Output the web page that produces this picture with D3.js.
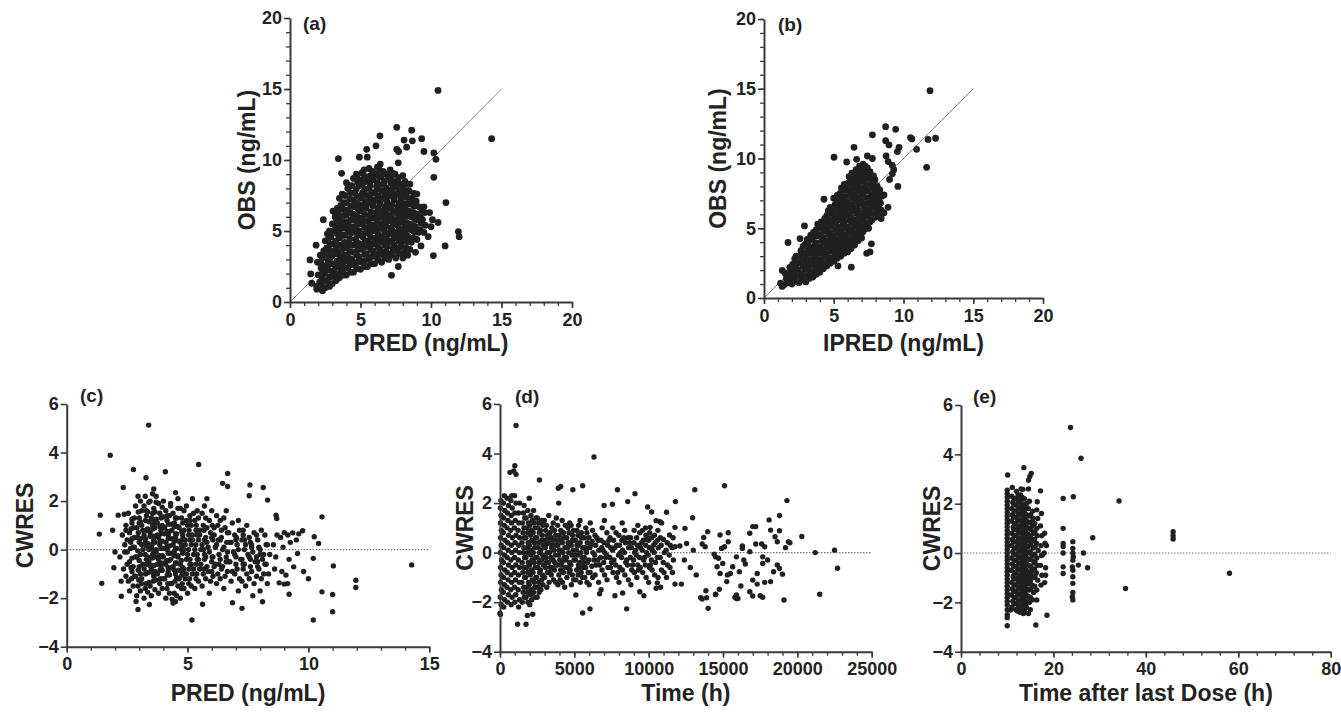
<!DOCTYPE html>
<html><head><meta charset="utf-8">
<script src="https://cdn.jsdelivr.net/npm/d3@7/dist/d3.min.js"></script>
<style>
body{margin:0;background:#fff}
svg text{font-family:"Liberation Sans",Arial,Helvetica,sans-serif;font-weight:bold;fill:#222}
</style></head><body>
<svg id="chart" width="1341" height="716"></svg>
<script>
// ---------------- DATA ----------------
const obsTicks = [0, 5, 10, 15, 20];
const predTicksC = [0, 5, 10, 15];
const timeTicks = [0, 5000, 10000, 15000, 20000, 25000];
const tadTicks = [0, 20, 40, 60, 80];
const cwresTicks = [-4, -2, 0, 2, 4, 6];

// (a) PRED vs OBS
const obsVsPred = [
[10.5,14.9],[14.3,11.5],[7.57,12.3],[8.63,12.1],[6.38,11.7],[8.09,11.4],[8.68,11.35],[9.34,11.5],[5.44,10.75],[6.1,11.0],
[7.57,10.75],[7.7,10.6],[9.5,10.6],[3.43,10.1],[4.92,10.2],[5.48,10.2],[10.2,10.5],[10.35,10.05],[8.27,10.9],[7.68,9.8],
[10.2,8.78],[11.06,7.0],[3.66,9.06],[2.36,5.8],[11.94,4.96],[12.0,4.6],[11.0,3.95],[10.17,3.27],[9.29,3.95],[7.2,1.88],
[7.68,2.5],[1.42,2.96],[1.47,1.98],[1.54,1.32],[1.9,1.1],[10.5,5.6],[9.9,6.3],[9.8,4.6],[8.9,3.5],
[1.9,0.9],[2.1,1.4],[2.0,1.9],[2.2,2.4],[1.95,2.8],[2.15,3.3],[2.3,0.8],[2.25,1.2],[1.85,4.0],
[2.5,1.0],[2.6,1.5],[2.45,2.0],[2.55,2.5],[2.7,2.9],[2.4,3.4],[2.6,3.8],[2.5,4.3],[2.65,4.8],[2.8,1.1],
[3.0,1.3],[2.9,1.8],[3.1,2.2],[3.0,2.7],[2.95,3.2],[3.15,3.6],[3.0,4.1],[2.9,4.6],[3.1,5.0],[3.0,5.5],[3.2,6.0],[3.05,6.4],[3.3,1.6],
[3.5,1.7],[3.6,2.2],[3.45,2.6],[3.55,3.1],[3.4,3.5],[3.6,4.0],[3.5,4.5],[3.45,5.0],[3.6,5.4],[3.5,5.9],[3.4,6.3],[3.6,6.8],[3.5,7.3],[3.8,1.9],
[4.0,1.9],[4.1,2.4],[3.95,2.9],[4.05,3.3],[4.0,3.8],[4.15,4.2],[3.9,4.7],[4.1,5.1],[4.0,5.6],[3.95,6.1],[4.1,6.5],[4.0,7.0],[3.9,7.5],[4.1,8.0],[4.0,8.4],[4.3,2.1],
[4.5,2.1],[4.6,2.6],[4.4,3.0],[4.55,3.5],[4.5,4.0],[4.65,4.4],[4.4,4.9],[4.5,5.3],[4.6,5.8],[4.45,6.2],[4.55,6.7],[4.5,7.2],[4.6,7.7],[4.4,8.2],[4.5,8.7],[4.7,9.0],
[5.0,2.3],[5.1,2.8],[4.9,3.2],[5.05,3.7],[5.0,4.1],[5.15,4.6],[4.9,5.0],[5.0,5.5],[5.1,5.9],[4.95,6.4],[5.05,6.8],[5.0,7.3],[5.15,7.7],[4.9,8.2],[5.0,8.6],[5.1,9.1],[5.3,2.5],
[5.5,2.5],[5.6,3.0],[5.4,3.4],[5.55,3.9],[5.5,4.3],[5.6,4.8],[5.45,5.2],[5.5,5.7],[5.65,6.1],[5.4,6.6],[5.55,7.0],[5.5,7.5],[5.6,8.0],[5.45,8.5],[5.7,8.9],[5.6,9.4],
[6.0,2.7],[6.1,3.2],[5.9,3.6],[6.05,4.1],[6.0,4.5],[6.15,5.0],[5.95,5.4],[6.0,5.9],[6.1,6.3],[5.9,6.8],[6.05,7.2],[6.0,7.7],[6.15,8.1],[5.9,8.6],[6.1,9.0],[6.2,9.5],
[6.5,2.8],[6.6,3.3],[6.4,3.7],[6.55,4.2],[6.5,4.6],[6.6,5.1],[6.45,5.5],[6.5,6.0],[6.6,6.4],[6.4,6.9],[6.55,7.3],[6.5,7.8],[6.6,8.3],[6.45,8.8],[6.6,9.2],[6.4,9.7],
[7.0,3.0],[7.1,3.4],[6.9,3.9],[7.05,4.3],[7.0,4.8],[7.15,5.2],[6.95,5.7],[7.0,6.1],[7.1,6.6],[6.9,7.0],[7.05,7.5],[7.0,7.9],[7.15,8.4],[6.95,8.8],[7.1,9.3],
[7.5,3.1],[7.6,3.6],[7.4,4.0],[7.55,4.5],[7.5,4.9],[7.6,5.4],[7.45,5.8],[7.5,6.3],[7.65,6.7],[7.4,7.2],[7.55,7.6],[7.5,8.1],[7.6,8.5],[7.45,9.0],
[8.0,3.1],[8.1,3.5],[7.9,4.0],[8.05,4.4],[8.0,4.9],[8.15,5.3],[7.95,5.8],[8.0,6.2],[8.1,6.7],[7.9,7.1],[8.05,7.6],[8.0,8.0],[8.15,8.5],[8.0,8.9],
[8.5,3.7],[8.6,4.2],[8.4,4.6],[8.55,5.1],[8.5,5.5],[8.6,6.0],[8.45,6.4],[8.5,6.9],[8.6,7.3],[8.45,7.8],[8.5,8.3],[8.35,3.3],
[9.0,4.4],[9.1,4.9],[8.9,5.3],[9.05,5.8],[9.0,6.2],[9.15,6.7],[8.95,7.1],[9.0,7.6],
[9.5,4.9],[9.6,5.4],[9.4,5.8],[9.55,6.3],[9.5,6.7],[10.0,5.3],[10.1,5.8]
];
const obsVsPredCore = [
[2.3,1.65],[2.35,2.15],[2.25,2.65],[2.3,3.1],[2.4,3.6],
[2.75,1.3],[2.8,1.75],[2.75,2.25],[2.85,2.7],[2.75,3.15],[2.8,3.6],[2.85,4.05],[2.75,4.5],[2.8,5.0],
[3.25,1.5],[3.3,1.95],[3.25,2.45],[3.35,2.9],[3.25,3.4],[3.3,3.85],[3.25,4.3],[3.35,4.8],[3.25,5.25],[3.3,5.7],[3.25,6.2],[3.35,6.6],
[3.75,2.05],[3.8,2.45],[3.7,2.85],[3.8,3.3],[3.75,3.75],[3.85,4.2],[3.75,4.7],[3.8,5.2],[3.7,5.65],[3.8,6.1],[3.75,6.55],[3.8,7.0],[3.7,7.6],
[4.25,2.6],[4.3,3.05],[4.25,3.55],[4.35,4.0],[4.25,4.45],[4.3,4.9],[4.2,5.35],[4.3,5.8],[4.25,6.3],[4.35,6.75],[4.25,7.25],[4.3,7.7],[4.2,8.2],
[4.75,2.35],[4.8,2.8],[4.75,3.3],[4.85,3.75],[4.75,4.2],[4.8,4.7],[4.7,5.15],[4.8,5.6],[4.75,6.05],[4.85,6.5],[4.75,6.95],[4.8,7.45],[4.7,7.95],[4.8,8.45],[4.75,8.8],
[5.25,2.9],[5.3,3.35],[5.25,3.85],[5.35,4.3],[5.25,4.8],[5.3,5.25],[5.2,5.7],[5.3,6.15],[5.25,6.6],[5.35,7.05],[5.25,7.5],[5.3,7.95],[5.2,8.4],[5.3,8.85],[5.25,9.3],
[5.75,2.7],[5.8,3.2],[5.75,3.65],[5.85,4.1],[5.75,4.55],[5.8,5.0],[5.7,5.45],[5.8,5.9],[5.75,6.35],[5.85,6.8],[5.75,7.25],[5.8,7.7],[5.7,8.2],[5.8,8.65],[5.85,9.2],
[6.25,2.95],[6.3,3.4],[6.25,3.85],[6.35,4.3],[6.25,4.75],[6.3,5.25],[6.2,5.7],[6.3,6.15],[6.25,6.6],[6.35,7.0],[6.25,7.45],[6.3,7.95],[6.2,8.4],[6.3,8.85],[6.35,9.3],
[6.75,3.1],[6.8,3.55],[6.75,4.0],[6.85,4.45],[6.75,4.9],[6.8,5.35],[6.7,5.8],[6.8,6.25],[6.75,6.7],[6.85,7.15],[6.75,7.6],[6.8,8.05],[6.7,8.5],[6.85,9.0],
[7.25,3.3],[7.3,3.75],[7.25,4.2],[7.35,4.65],[7.25,5.05],[7.3,5.5],[7.2,5.95],[7.3,6.4],[7.25,6.85],[7.35,7.3],[7.25,7.75],[7.3,8.2],[7.2,8.65],[7.3,9.05],
[7.75,3.4],[7.8,3.85],[7.75,4.3],[7.85,4.7],[7.75,5.15],[7.8,5.6],[7.7,6.05],[7.8,6.5],[7.75,6.95],[7.85,7.4],[7.75,7.85],[7.8,8.3],[7.7,8.75],
[8.25,3.8],[8.3,4.25],[8.25,4.7],[8.35,5.15],[8.25,5.6],[8.3,6.05],[8.2,6.5],[8.3,6.95],[8.25,7.4],[8.35,7.85],[8.25,8.3],
[8.75,4.5],[8.8,4.95],[8.75,5.4],[8.85,5.85],[8.75,6.3],[8.8,6.75],[8.7,7.2],[8.8,7.65],
[9.25,5.1],[9.3,5.55],[9.25,6.0],[9.35,6.45]
];

// (b) IPRED vs OBS
const obsVsIpred = [
[11.9,14.86],[8.72,12.28],[9.44,12.09],[7.77,11.7],[10.5,11.5],[10.6,11.4],[11.76,11.37],[12.3,11.45],[8.72,11.28],[8.96,10.97],
[9.68,10.8],[9.56,10.5],[10.94,10.66],[6.45,10.8],[5.02,10.09],[5.93,9.75],[6.64,9.94],[7.41,10.18],[7.77,10.0],[8.75,10.18],
[8.9,9.78],[9.2,9.5],[11.66,9.37],[9.2,8.9],[9.6,8.0],[4.3,7.08],[8.6,7.39],[8.89,6.5],[2.9,5.17],[2.58,4.26],[1.72,3.98],
[7.7,3.88],[7.6,3.3],[7.36,3.2],[6.26,2.21],[5.3,2.3],[1.31,1.97],[1.19,1.06],[1.3,0.83],[8.4,5.7],[8.6,6.1],[9.0,8.5],[9.3,9.2],
[1.45,0.95],[1.6,1.4],[1.5,1.8],[1.7,1.1],
[2.0,1.0],[2.1,1.45],[1.95,1.9],[2.05,2.4],[2.2,2.8],[2.25,1.2],
[2.5,1.1],[2.6,1.55],[2.45,2.0],[2.55,2.5],[2.5,3.0],[2.65,3.4],[2.75,1.3],
[3.0,1.15],[3.1,1.6],[2.95,2.05],[3.05,2.5],[3.0,2.95],[3.15,3.4],[2.95,3.85],[3.1,4.2],
[3.5,1.5],[3.6,1.95],[3.45,2.4],[3.55,2.85],[3.5,3.3],[3.65,3.75],[3.45,4.2],[3.55,4.7],[3.75,1.7],
[4.0,1.85],[4.1,2.3],[3.95,2.75],[4.05,3.2],[4.0,3.65],[4.15,4.1],[3.95,4.55],[4.05,5.0],[4.1,5.45],[4.25,2.1],
[4.5,2.3],[4.6,2.75],[4.45,3.2],[4.55,3.65],[4.5,4.1],[4.65,4.55],[4.45,5.0],[4.55,5.45],[4.5,5.9],[4.6,6.25],[4.75,2.5],
[5.0,2.65],[5.1,3.1],[4.95,3.55],[5.05,4.0],[5.0,4.45],[5.15,4.9],[4.95,5.35],[5.05,5.8],[5.0,6.25],[5.1,6.7],[5.0,7.15],
[5.5,3.0],[5.6,3.45],[5.45,3.9],[5.55,4.35],[5.5,4.8],[5.65,5.25],[5.45,5.7],[5.55,6.15],[5.5,6.6],[5.6,7.05],[5.45,7.5],[5.55,7.9],[5.75,3.2],
[6.0,3.3],[6.1,3.75],[5.95,4.2],[6.05,4.65],[6.0,5.1],[6.15,5.55],[5.95,6.0],[6.05,6.45],[6.0,6.9],[6.1,7.35],[5.95,7.8],[6.05,8.25],[6.1,8.7],[6.25,3.55],
[6.5,3.8],[6.6,4.25],[6.45,4.7],[6.55,5.15],[6.5,5.6],[6.65,6.05],[6.45,6.5],[6.55,6.95],[6.5,7.4],[6.6,7.85],[6.45,8.3],[6.55,8.75],[6.6,9.2],[6.75,4.1],
[7.0,4.3],[7.1,4.75],[6.95,5.2],[7.05,5.65],[7.0,6.1],[7.15,6.55],[6.95,7.0],[7.05,7.45],[7.0,7.9],[7.1,8.35],[6.95,8.8],[7.05,9.25],[7.1,9.6],
[7.5,5.0],[7.6,5.45],[7.45,5.9],[7.55,6.35],[7.5,6.8],[7.65,7.25],[7.45,7.7],[7.55,8.15],[7.5,8.6],[7.6,9.05],[7.4,9.35],
[8.0,5.8],[8.1,6.25],[7.95,6.7],[8.05,7.15],[8.0,7.6],[8.1,8.05],[7.95,8.5],[8.2,6.0],
[8.4,6.3],[8.35,6.8],[8.45,7.3],[8.3,7.75]
];
const obsVsIpredCore = [
[1.8,1.35],[1.75,1.75],[1.85,2.2],
[2.25,1.65],[2.3,2.1],[2.35,2.55],[2.3,3.0],
[2.75,1.75],[2.8,2.25],[2.75,2.75],[2.85,3.2],[2.8,3.7],
[3.25,1.4],[3.3,1.85],[3.25,2.3],[3.35,2.75],[3.25,3.2],[3.3,3.65],[3.25,4.1],[3.35,4.5],
[3.75,2.15],[3.8,2.6],[3.75,3.05],[3.85,3.5],[3.75,3.95],[3.8,4.45],[3.75,4.9],[3.85,5.3],
[4.25,2.55],[4.3,3.0],[4.25,3.45],[4.35,3.9],[4.25,4.35],[4.3,4.8],[4.25,5.25],[4.35,5.7],
[4.75,2.9],[4.8,3.35],[4.75,3.8],[4.85,4.25],[4.75,4.7],[4.8,5.15],[4.75,5.6],[4.85,6.05],[4.75,6.5],
[5.25,2.85],[5.3,3.3],[5.25,3.75],[5.35,4.2],[5.25,4.65],[5.3,5.1],[5.25,5.55],[5.35,6.0],[5.25,6.45],[5.3,6.9],[5.25,7.35],
[5.75,3.65],[5.8,4.1],[5.75,4.55],[5.85,5.0],[5.75,5.45],[5.8,5.9],[5.75,6.35],[5.85,6.8],[5.75,7.25],[5.8,7.7],[5.75,8.15],
[6.25,4.0],[6.3,4.45],[6.25,4.9],[6.35,5.35],[6.25,5.8],[6.3,6.25],[6.25,6.7],[6.35,7.15],[6.25,7.6],[6.3,8.05],[6.25,8.5],[6.3,8.95],
[6.75,4.5],[6.8,4.95],[6.75,5.4],[6.85,5.85],[6.75,6.3],[6.8,6.75],[6.75,7.2],[6.85,7.65],[6.75,8.1],[6.8,8.55],[6.75,9.0],[6.85,9.45],
[7.25,4.95],[7.3,5.4],[7.25,5.85],[7.35,6.3],[7.25,6.75],[7.3,7.2],[7.25,7.65],[7.35,8.1],[7.25,8.55],[7.3,9.0],[7.25,9.45],
[7.75,5.6],[7.8,6.05],[7.75,6.5],[7.85,6.95],[7.75,7.4],[7.8,7.85],[7.75,8.3],[7.85,8.75],
[8.2,6.5],[8.25,6.95],[8.2,7.4],[8.15,7.85]
];

// (c) PRED vs CWRES
const cwresVsPred = [
[3.39,5.13],[1.8,3.89],[2.76,3.3],[3.28,2.96],[4.08,3.21],[5.46,3.51],[6.66,3.14],[2.34,2.56],[1.39,1.42],[1.35,0.64],
[1.45,-1.39],[1.9,0.8],[2.13,1.42],[2.38,1.46],[6.45,2.73],[6.66,2.6],[7.58,2.66],[8.13,2.56],[7.55,2.22],[8.31,2.04],
[8.66,1.42],[8.69,1.28],[10.56,1.35],[10.24,0.53],[10.42,0.25],[10.2,-0.36],[11.03,-0.67],[10.56,-1.74],[11.0,-1.85],[11.0,-2.56],
[10.2,-2.9],[11.96,-1.26],[11.96,-1.56],[5.18,-2.9],[2.95,-2.47],[2.87,-2.14],[2.26,-1.92],[3.42,-2.26],[4.5,-2.15],[4.36,-2.05],
[5.62,-2.25],[6.86,-2.19],[7.25,-2.42],[8.1,-2.15],[9.2,-1.84],[9.55,-0.16],[9.39,-0.71],[9.07,-1.05],[9.14,-1.4],[8.79,-1.37],
[9.0,-1.42],[9.76,0.78],[9.35,0.69],[14.27,-0.63],[3.6,2.5],[4.5,2.35],[5.2,2.1],[5.8,2.1],[2.0,-0.1],[1.95,-0.75],[10.0,-1.2],[9.8,-0.9],
[2.25,-1.3],[2.35,-0.8],[2.2,-0.3],[2.4,0.2],[2.3,0.6],[2.45,1.0],
[2.6,-1.7],[2.55,-1.3],[2.7,-0.9],[2.6,-0.5],[2.5,-0.1],[2.65,0.3],[2.6,0.7],[2.7,1.1],[2.55,1.5],
[2.9,-1.9],[2.95,-1.5],[2.85,-1.1],[3.0,-0.7],[2.9,-0.3],[2.8,0.1],[2.95,0.5],[2.9,0.9],[3.0,1.3],[2.85,1.8],[2.95,2.2],
[3.2,-2.0],[3.25,-1.6],[3.1,-1.2],[3.2,-0.8],[3.3,-0.4],[3.15,0.0],[3.25,0.3],[3.2,0.6],[3.1,1.0],[3.3,1.4],[3.2,1.8],[3.25,2.2],
[3.5,-1.9],[3.45,-1.5],[3.6,-1.1],[3.5,-0.8],[3.4,-0.5],[3.55,-0.2],[3.5,0.1],[3.6,0.4],[3.45,0.7],[3.55,1.0],[3.5,1.3],[3.6,1.7],[3.45,2.0],[3.55,2.3],
[3.8,-1.8],[3.85,-1.4],[3.75,-1.0],[3.9,-0.7],[3.8,-0.4],[3.7,-0.1],[3.85,0.2],[3.8,0.5],[3.9,0.8],[3.75,1.1],[3.85,1.5],[3.8,1.9],[3.7,2.2],
[4.1,-2.0],[4.15,-1.6],[4.05,-1.2],[4.2,-0.9],[4.1,-0.6],[4.0,-0.3],[4.15,0.0],[4.1,0.3],[4.2,0.6],[4.05,0.9],[4.15,1.2],[4.1,1.6],[4.0,2.0],
[4.4,-2.2],[4.45,-1.8],[4.35,-1.4],[4.5,-1.0],[4.4,-0.7],[4.3,-0.4],[4.45,-0.1],[4.4,0.2],[4.5,0.5],[4.35,0.8],[4.45,1.1],[4.4,1.5],[4.3,1.9],
[4.7,-2.0],[4.75,-1.6],[4.65,-1.2],[4.8,-0.9],[4.7,-0.6],[4.6,-0.3],[4.75,0.0],[4.7,0.3],[4.8,0.6],[4.65,0.9],[4.75,1.3],[4.7,1.7],[4.6,2.1],
[5.0,-1.8],[5.05,-1.4],[4.95,-1.0],[5.1,-0.6],[5.0,-0.2],[4.9,0.2],[5.05,0.6],[5.0,1.0],[5.1,1.4],[4.95,1.8],
[5.3,-1.6],[5.35,-1.2],[5.25,-0.8],[5.4,-0.4],[5.3,0.0],[5.2,0.4],[5.35,0.8],[5.3,1.2],[5.4,1.6],
[5.6,-1.5],[5.65,-1.0],[5.55,-0.6],[5.7,-0.2],[5.6,0.2],[5.5,0.6],[5.65,1.0],[5.6,1.5],[5.7,1.8],
[5.9,-1.8],[5.95,-1.3],[5.85,-0.9],[6.0,-0.5],[5.9,-0.1],[5.8,0.3],[5.95,0.7],[5.9,1.2],[6.0,1.6],
[6.2,-1.4],[6.25,-1.0],[6.15,-0.6],[6.3,-0.2],[6.2,0.2],[6.1,0.6],[6.25,1.0],[6.2,1.4],
[6.5,-1.6],[6.55,-1.1],[6.45,-0.7],[6.6,-0.3],[6.5,0.1],[6.4,0.5],[6.55,0.9],[6.5,1.3],[6.6,1.6],
[6.8,-1.3],[6.85,-0.9],[6.75,-0.5],[6.9,-0.1],[6.8,0.3],[6.7,0.7],[6.85,1.1],
[7.1,-1.7],[7.15,-1.2],[7.05,-0.8],[7.2,-0.4],[7.1,0.0],[7.0,0.4],[7.15,0.8],[7.1,1.2],
[7.4,-1.5],[7.45,-1.0],[7.35,-0.6],[7.5,-0.2],[7.4,0.2],[7.3,0.6],[7.45,1.0],
[7.7,-1.9],[7.75,-1.4],[7.65,-0.9],[7.8,-0.5],[7.7,-0.1],[7.6,0.3],[7.75,0.7],
[8.0,-1.7],[8.05,-1.2],[7.95,-0.8],[8.1,-0.4],[8.0,0.0],[7.9,0.4],[8.05,0.8],
[8.3,-1.4],[8.35,-1.0],[8.25,-0.6],[8.4,-0.2],[8.3,0.2],[8.2,0.6],
[8.6,-0.8],[8.65,-0.3],[8.55,0.2],[8.7,0.6],
[8.9,-0.9],[8.95,0.1],[8.85,0.5],[9.0,0.7],
[9.2,-0.4],[9.25,0.3],[9.15,0.6],[9.5,0.4],[9.6,0.65]
];
const cwresVsPredCore = [
[2.45,-1.1],[2.5,-0.6],[2.4,-0.1],[2.5,0.4],[2.45,0.8],
[2.75,-1.5],[2.8,-1.1],[2.75,-0.7],[2.85,-0.3],[2.75,0.1],[2.8,0.5],[2.75,0.9],[2.8,1.3],
[3.05,-1.7],[3.1,-1.4],[3.05,-1.0],[3.15,-0.6],[3.05,-0.2],[3.1,0.2],[3.05,0.45],[3.15,0.8],[3.05,1.15],[3.1,1.6],[3.05,2.0],
[3.35,-1.75],[3.4,-1.35],[3.35,-0.95],[3.45,-0.65],[3.35,-0.3],[3.4,0.0],[3.35,0.25],[3.45,0.55],[3.35,0.85],[3.4,1.15],[3.35,1.55],[3.4,1.95],
[3.65,-1.65],[3.7,-1.25],[3.65,-0.9],[3.75,-0.6],[3.65,-0.3],[3.7,0.0],[3.65,0.3],[3.75,0.6],[3.65,0.9],[3.7,1.25],[3.65,1.55],[3.7,1.95],
[3.95,-1.6],[4.0,-1.2],[3.95,-0.85],[4.05,-0.55],[3.95,-0.25],[4.0,0.05],[3.95,0.35],[4.05,0.65],[3.95,1.0],[4.0,1.35],[3.95,1.75],
[4.25,-1.8],[4.3,-1.4],[4.25,-1.05],[4.35,-0.75],[4.25,-0.45],[4.3,-0.15],[4.25,0.15],[4.35,0.45],[4.25,0.75],[4.3,1.05],[4.25,1.4],[4.3,1.8],
[4.55,-1.9],[4.6,-1.5],[4.55,-1.15],[4.65,-0.85],[4.55,-0.55],[4.6,-0.25],[4.55,0.05],[4.65,0.35],[4.55,0.65],[4.6,0.95],[4.55,1.3],[4.6,1.7],
[4.85,-1.6],[4.9,-1.2],[4.85,-0.8],[4.95,-0.4],[4.85,0.0],[4.9,0.4],[4.85,0.8],[4.95,1.2],[4.85,1.6],
[5.15,-1.5],[5.2,-1.0],[5.15,-0.6],[5.25,-0.2],[5.15,0.2],[5.2,0.6],[5.15,1.0],[5.25,1.5],
[5.45,-1.3],[5.5,-0.8],[5.45,-0.4],[5.55,0.0],[5.45,0.4],[5.5,0.8],[5.45,1.3],
[5.75,-1.2],[5.8,-0.7],[5.75,-0.3],[5.85,0.1],[5.75,0.5],[5.8,0.9],[5.75,1.3],
[6.05,-1.1],[6.1,-0.7],[6.05,-0.3],[6.15,0.1],[6.05,0.4],[6.1,0.9],
[6.35,-1.2],[6.4,-0.8],[6.35,-0.4],[6.45,0.0],[6.35,0.4],[6.4,0.8],[6.35,1.2],
[6.65,-0.9],[6.7,-0.5],[6.65,-0.1],[6.75,0.3],[6.65,0.7],
[6.95,-1.0],[7.0,-0.6],[6.95,-0.2],[7.05,0.2],[6.95,0.6],
[7.25,-1.3],[7.3,-0.8],[7.25,-0.4],[7.35,0.0],[7.25,0.4],[7.3,0.8],
[7.55,-1.2],[7.6,-0.7],[7.55,-0.3],[7.65,0.1],[7.55,0.5],
[7.85,-1.1],[7.9,-0.7],[7.85,-0.3],[7.95,0.1],[7.85,0.6],
[8.15,-1.0],[8.2,-0.6],[8.15,-0.2],[8.25,0.2],
[2.68,-1.2],[2.66,-0.75],[2.7,-0.35],[2.64,0.05],[2.7,0.45],[2.66,0.85],[2.7,1.25],
[2.98,-1.25],[2.96,-0.85],[3.0,-0.45],[2.94,-0.05],[3.0,0.3],[2.96,0.7],[3.0,1.1],[2.96,1.55],
[3.28,-1.4],[3.26,-1.0],[3.3,-0.6],[3.24,-0.2],[3.3,0.15],[3.26,0.45],[3.3,0.8],[3.26,1.2],[3.3,1.6],
[3.58,-1.3],[3.56,-0.95],[3.6,-0.65],[3.54,-0.35],[3.6,-0.05],[3.56,0.25],[3.6,0.55],[3.56,0.85],[3.6,1.15],[3.56,1.5],
[3.88,-1.2],[3.86,-0.85],[3.9,-0.55],[3.84,-0.25],[3.9,0.05],[3.86,0.35],[3.9,0.65],[3.86,0.95],[3.9,1.3],
[4.18,-1.4],[4.16,-1.05],[4.2,-0.75],[4.14,-0.45],[4.2,-0.15],[4.16,0.15],[4.2,0.45],[4.16,0.75],[4.2,1.05],[4.16,1.4],
[4.48,-1.3],[4.46,-0.85],[4.5,-0.55],[4.44,-0.25],[4.5,0.05],[4.46,0.35],[4.5,0.65],[4.46,0.95],[4.5,1.3],
[4.78,-1.4],[4.76,-1.05],[4.8,-0.75],[4.74,-0.45],[4.8,-0.15],[4.76,0.15],[4.8,0.45],[4.76,0.75],[4.8,1.1],
[5.08,-1.2],[5.06,-0.8],[5.1,-0.4],[5.04,0.0],[5.1,0.4],[5.06,0.8],[5.1,1.2],
[5.38,-1.0],[5.36,-0.6],[5.4,-0.2],[5.34,0.2],[5.4,0.6],[5.36,1.0],
[5.68,-0.8],[5.7,-0.4],[5.66,0.0],[5.7,0.4],[5.68,0.8],
[6.0,-0.9],[6.02,-0.3],[6.0,0.5],[6.02,1.0],
[6.3,-0.6],[6.28,0.4],[6.6,-0.5],[6.62,0.3],[7.0,-0.3],[7.02,0.5],[7.3,-0.6],[7.35,0.4],[7.6,-0.4],[7.65,0.2],[7.9,-0.5],[8.0,-0.2]
];

// (d) Time vs CWRES
const cwresVsTime = [
[1080,5.13],[6320,3.86],[1000,3.51],[930,3.3],[1080,3.16],[670,3.24],[2650,2.93],[5560,2.7],[3920,2.6],[4080,2.67],
[4900,2.54],[7900,2.54],[9080,2.38],[8590,2.06],[7560,1.95],[7000,1.9],[9930,1.84],[11800,2.06],[13100,2.54],[15100,2.7],
[19300,2.1],[11200,1.63],[12950,1.41],[18800,1.5],[18100,1.32],[17000,1.05],[20300,0.65],[19400,0.44],[21200,0.0],[22500,0.1],
[22700,-0.63],[21500,-1.68],[19100,-1.91],[17500,-1.74],[16800,-1.58],[15900,-1.71],[16000,-1.85],[14000,-2.25],[13900,-1.82],[14500,-1.68],
[13500,-1.82],[8520,-2.27],[5560,-2.44],[6050,-2.27],[9400,-1.58],[9680,-1.74],[7730,-1.74],[8250,-1.63],[5100,-1.71],[6700,-1.66],
[1180,-2.89],[1750,-2.89],[1840,-2.54],[2200,-2.49],[0,-2.45],
[10200,1.64],[10500,1.29],[10760,1.25],[12440,0.98],[11770,1.02],[10100,1.02],[11400,0.71],[11000,0.53],[13970,0.84],[13700,0.61],
[14800,0.71],[15350,0.8],[16800,0.78],[17200,1.05],[18200,0.91],[18800,0.88],[18500,0.64],[18650,0.44],[19500,0.4],[17600,0.35],
[17800,0.24],[17200,0.35],[16300,0.27],[16300,0.17],[15100,0.24],[15350,0.44],[14900,0.17],[13800,0.24],[13600,0.35],[12550,0.37],
[11770,0.24],[12100,0.27],[14400,-0.06],[14500,-0.17],[14700,-0.23],[15900,-0.17],[16400,-0.3],[16500,-0.46],[16800,0.04],[17670,-0.17],
[17670,-0.44],[18650,-0.5],[18800,-0.64],[19000,-0.87],[18400,-0.77],[17670,-1.8],[17000,-1.75],[15900,-1.85],[15800,-1.8],[13600,-1.87],
[13850,-1.54],[14500,-1.69],[14750,-1.48],[15250,-1.17],[15300,-0.9],[15500,-0.84],[15650,-0.57],[17000,-1.11],[17300,-1.27],[17300,-0.84],
[17800,-1.2],[18200,-1.17],[16200,-1.35],[16100,-0.77],[14800,-0.84],[14980,-0.44],[14600,-0.57],[11770,-1.27],[12200,-1.27],[10580,-1.22],
[10500,-1.44],[12800,-0.6],[13200,-0.9],[12400,-0.3],[13000,0.1],[18000,-0.3],[19200,0.2],
[30,-2.5],[80,-2.1],[20,-1.8],[90,-1.5],[40,-1.2],[70,-0.9],[30,-0.6],[100,-0.3],[20,0.0],[80,0.3],[40,0.6],[90,0.9],[30,1.2],[70,1.5],[20,1.8],[60,2.1],
[250,-2.2],[310,-1.9],[220,-1.6],[290,-1.3],[240,-1.0],[320,-0.7],[230,-0.4],[300,-0.1],[260,0.2],[330,0.5],[220,0.8],[280,1.1],[250,1.4],[320,1.7],[230,2.0],[290,2.3],
[500,-2.0],[560,-1.7],[470,-1.4],[540,-1.1],[490,-0.8],[570,-0.5],[480,-0.2],[550,0.1],[510,0.4],[580,0.7],[470,1.0],[530,1.3],[500,1.6],[570,1.9],[480,2.2],
[750,-2.1],[810,-1.8],[720,-1.5],[790,-1.2],[740,-0.9],[820,-0.6],[730,-0.3],[800,0.0],[760,0.3],[830,0.6],[720,0.9],[780,1.2],[750,1.5],[820,1.8],[730,2.1],[790,2.3],
[1000,-2.0],[1060,-1.7],[970,-1.4],[1040,-1.1],[990,-0.8],[1070,-0.5],[980,-0.2],[1050,0.1],[1010,0.4],[1080,0.7],[970,1.0],[1030,1.3],[1000,1.6],[1070,2.0],[980,2.3],
[1250,-2.2],[1310,-1.9],[1220,-1.5],[1290,-1.2],[1240,-0.9],[1320,-0.6],[1230,-0.3],[1300,0.0],[1260,0.3],[1330,0.6],[1220,0.9],[1280,1.2],[1250,1.6],[1320,2.0],
[1500,-2.0],[1560,-1.6],[1470,-1.2],[1540,-0.8],[1490,-0.4],[1570,0.0],[1480,0.4],[1550,0.8],[1510,1.2],[1580,1.6],
[1750,-1.8],[1810,-1.4],[1720,-1.0],[1790,-0.6],[1740,-0.2],[1820,0.2],[1730,0.6],[1800,1.0],[1760,1.4],
[2000,-2.1],[2060,-1.7],[1970,-1.3],[2040,-0.9],[1990,-0.5],[2070,-0.1],[1980,0.3],[2050,0.7],[2010,1.1],[2080,1.5],[1970,2.2],
[2250,-1.6],[2310,-1.2],[2220,-0.8],[2290,-0.4],[2240,0.0],[2320,0.4],[2230,0.8],[2300,1.2],[2260,1.7],
[2500,-1.8],[2560,-1.4],[2470,-1.0],[2540,-0.6],[2490,-0.2],[2570,0.2],[2480,0.6],[2550,1.0],[2510,1.4],
[2750,-1.5],[2810,-1.1],[2720,-0.7],[2790,-0.3],[2740,0.1],[2820,0.5],[2730,0.9],[2800,1.3],
[3000,-1.0],[3060,-0.6],[2970,-0.2],[3040,0.2],[2990,0.5],[3070,0.9],[2980,1.3],
[3300,-1.2],[3360,-0.8],[3270,-0.4],[3340,0.0],[3290,0.4],[3370,0.8],[3280,1.5],
[3600,-1.1],[3660,-0.7],[3570,-0.3],[3640,0.1],[3590,0.5],[3670,0.9],[3580,1.2],
[3900,-1.3],[3960,-0.9],[3870,-0.5],[3940,-0.1],[3890,0.3],[3970,0.7],[3880,1.1],[3950,2.0],
[4200,-1.2],[4260,-0.8],[4170,-0.4],[4240,0.0],[4190,0.4],[4270,0.8],[4180,1.3],
[4500,-1.0],[4560,-0.6],[4470,-0.2],[4540,0.2],[4490,0.6],[4570,1.0],
[4800,-1.3],[4860,-0.9],[4770,-0.5],[4840,-0.1],[4790,0.3],[4870,0.7],[4780,1.1],
[5100,-1.1],[5160,-0.7],[5070,-0.3],[5140,0.1],[5090,0.5],[5170,0.9],
[5400,-1.2],[5460,-0.8],[5370,-0.4],[5440,0.0],[5390,0.4],[5470,0.8],[5380,1.3],
[5700,-1.0],[5760,-0.6],[5670,-0.2],[5740,0.2],[5690,0.6],[5770,1.0],
[6000,-1.3],[6060,-0.8],[5970,-0.3],[6040,0.2],[5990,0.6],[6070,1.2],
[6400,-0.9],[6460,-0.5],[6370,-0.1],[6440,0.3],[6390,0.7],
[6800,-1.5],[6860,-0.7],[6770,-0.2],[6840,0.2],[6790,0.5],[6870,1.0],
[7200,-1.1],[7260,-0.6],[7170,-0.1],[7240,0.3],[7190,0.8],
[7600,-0.8],[7660,-0.3],[7570,0.1],[7640,0.5],[7590,1.0],
[8000,-1.2],[8060,-0.6],[7970,-0.1],[8040,0.3],[7990,0.7],
[8400,-0.9],[8460,-0.4],[8370,0.0],[8440,0.4],[8390,0.9],
[8800,-1.3],[8860,-0.7],[8770,-0.2],[8840,0.2],[8790,0.6],
[9200,-1.0],[9260,-0.5],[9170,-0.1],[9240,0.3],[9190,0.6],[9270,1.1],
[9600,-0.8],[9660,-0.3],[9570,0.1],[9640,0.5],[9590,0.9],
[10000,-1.2],[10060,-0.6],[9970,-0.1],[10040,0.2],[9990,0.5],[10070,0.8],
[10400,-0.9],[10460,-0.4],[10370,0.0],[10440,0.4],[10390,0.7],
[10800,-1.4],[10860,-0.7],[10770,-0.2],[10840,0.3],[10790,0.6],[10870,1.2],
[11200,-1.0],[11260,-0.5],[11170,0.1],[11240,0.4],
[11600,-0.8],[11660,-0.3],[11570,0.2],[11640,0.6]
];
const cwresVsTimeCore = [
[1630,-1.8],[1600,-1.4],[1660,-1.0],[1620,-0.6],[1650,-0.2],[1590,0.2],[1640,0.6],[1610,1.0],[1670,1.4],[1620,1.9],
[1880,-2.0],[1850,-1.6],[1910,-1.2],[1870,-0.8],[1900,-0.4],[1840,0.0],[1890,0.4],[1860,0.8],[1920,1.2],[1870,1.7],
[2130,-1.9],[2100,-1.5],[2160,-1.1],[2120,-0.7],[2150,-0.3],[2090,0.1],[2140,0.5],[2110,0.9],[2170,1.3],
[2380,-1.8],[2350,-1.4],[2410,-1.0],[2370,-0.6],[2400,-0.2],[2340,0.2],[2390,0.6],[2360,1.0],[2420,1.4],
[2630,-1.6],[2600,-1.2],[2660,-0.8],[2620,-0.4],[2650,0.0],[2590,0.4],[2640,0.8],[2610,1.2],
[2880,-1.3],[2850,-0.9],[2910,-0.5],[2870,-0.1],[2900,0.3],[2840,0.7],[2890,1.1],
[3150,-1.4],[3180,-0.8],[3120,-0.4],[3170,0.0],[3140,0.35],[3190,0.7],[3130,1.1],
[3450,-0.9],[3480,-0.6],[3420,-0.2],[3470,0.2],[3440,0.6],[3490,1.0],
[3750,-1.2],[3780,-0.5],[3720,-0.1],[3770,0.3],[3740,0.7],[3790,1.4],
[4050,-1.1],[4080,-0.7],[4020,-0.3],[4070,0.1],[4040,0.5],[4090,0.9],
[4350,-1.4],[4380,-0.6],[4320,-0.2],[4370,0.2],[4340,0.6],[4390,1.1],
[4650,-0.8],[4680,-0.4],[4620,0.0],[4670,0.4],[4640,0.8],[4690,1.2],
[4950,-1.1],[4980,-0.3],[4920,0.1],[4970,0.5],[4940,0.9],
[5250,-0.9],[5280,-0.5],[5220,-0.1],[5270,0.3],[5240,0.7],[5290,1.1],
[5550,-1.0],[5580,-0.6],[5520,-0.2],[5570,0.2],[5540,0.6],
[5850,-1.2],[5880,-0.4],[5820,0.0],[5870,0.4],[5840,0.8],
[6230,-1.0],[6180,-0.55],[6250,0.0],[6200,0.45],[6220,0.9],
[6630,-1.2],[6580,-0.3],[6650,0.1],[6600,0.5],
[7030,-0.9],[6980,-0.4],[7050,0.0],[7000,0.4],[7020,1.3],
[7430,-0.6],[7380,-0.2],[7450,0.2],[7400,0.6],
[7830,-1.0],[7780,-0.5],[7850,0.3],[7800,0.8],
[8230,-0.7],[8180,-0.2],[8250,0.1],[8200,0.5],[8220,1.2],
[8630,-1.1],[8580,-0.5],[8650,0.2],[8600,0.6],
[9030,-0.8],[8980,-0.3],[9050,0.0],[9000,0.4],[9020,0.9],
[9430,-0.6],[9380,-0.2],[9450,0.2],[9400,0.8],
[9830,-1.0],[9780,-0.5],[9850,0.0],[9800,0.3],[9820,0.7],[9790,1.0],
[10230,-0.7],[10180,-0.3],[10250,0.1],[10200,0.6],
[10630,-1.0],[10580,-0.2],[10650,0.2],[10600,0.5],[10620,0.9],
[11030,-0.8],[10980,-0.4],[11050,0.0],
[11430,-0.6],[11380,-0.1],[11450,0.3],
[3100,-0.2],[3230,0.6],[3380,-0.6],[3520,0.3],[3680,-0.4],[3820,0.5],[3980,0.1],[4120,-0.5],[4280,0.6],[4420,-0.3],
[4580,0.4],[4720,-0.7],[4880,0.5],[5020,-0.1],[5180,0.3],[5320,-0.6],[5480,0.6],[5620,-0.4],[5800,0.1],[5930,-0.8],
[6120,0.3],[6320,-0.3],[6520,0.6],[6700,-0.5],[6920,0.1],[7100,-0.2],[7320,0.5],[7500,-0.4],[7720,0.2],[7920,-0.8],
[8100,0.0],[8320,0.6],[8520,-0.3],[8720,0.4],[8920,-0.5],[9120,0.1],[9320,-0.7],[9520,0.4],[9720,-0.2],[9920,0.6],
[10120,-0.5],[10320,0.3]
];

// (e) Time after last dose vs CWRES
const cwresVsTad = [
[10,-2.1],[10,-1.95],[10,-1.8],[10,-1.65],[10,-1.5],[10,-1.35],[10,-1.2],[10,-1.05],[10,-0.9],[10,-0.75],[10,-0.6],[10,-0.45],
[10,-0.3],[10,-0.15],[10,0],[10,0.15],[10,0.3],[10,0.45],[10,0.6],[10,0.75],[10,0.9],[10,1.05],[10,1.2],[10,1.35],[10,1.5],
[10,1.65],[10,1.8],[10,1.95],[10,2.1],[10,2.25],[10,2.4],[10,2.55],[10,-2.3],[10,-2.5],[10,-2.62],[10,-2.95],[10.1,3.16],
[11.0,-2.2],[11.2,-1.95],[10.9,-1.7],[11.1,-1.45],[11.0,-1.2],[11.3,-0.95],[10.9,-0.7],[11.1,-0.45],[11.0,-0.2],[11.2,0.05],
[10.9,0.3],[11.1,0.55],[11.0,0.8],[11.3,1.05],[10.9,1.3],[11.1,1.55],[11.0,1.8],[11.2,2.05],[11.0,2.3],[11.1,2.66],
[11.9,-2.3],[12.1,-2.05],[11.8,-1.8],[12.0,-1.55],[11.9,-1.3],[12.2,-1.05],[11.8,-0.8],[12.0,-0.55],[11.9,-0.3],[12.1,-0.05],
[11.8,0.2],[12.0,0.45],[11.9,0.7],[12.2,0.95],[11.8,1.2],[12.0,1.45],[11.9,1.7],[12.1,1.95],[11.9,2.2],[12.0,2.5],
[12.8,-2.4],[13.0,-2.15],[12.7,-1.9],[12.9,-1.65],[12.8,-1.4],[13.1,-1.15],[12.7,-0.9],[12.9,-0.65],[12.8,-0.4],[13.0,-0.15],
[12.7,0.1],[12.9,0.35],[12.8,0.6],[13.1,0.85],[12.7,1.1],[12.9,1.35],[12.8,1.6],[13.0,1.85],[12.8,2.1],[12.9,2.35],[13.0,2.6],
[13.7,-2.35],[13.9,-2.1],[13.6,-1.85],[13.8,-1.6],[13.7,-1.35],[14.0,-1.1],[13.6,-0.85],[13.8,-0.6],[13.7,-0.35],[13.9,-0.1],
[13.6,0.15],[13.8,0.4],[13.7,0.65],[14.0,0.9],[13.6,1.15],[13.8,1.4],[13.7,1.65],[13.9,1.9],[13.7,2.2],
[14.6,-2.45],[14.8,-2.0],[14.5,-1.75],[14.7,-1.5],[14.6,-1.25],[14.9,-1.0],[14.5,-0.75],[14.7,-0.5],[14.6,-0.25],[14.8,0.0],
[14.5,0.25],[14.7,0.5],[14.6,0.75],[14.9,1.0],[14.5,1.25],[14.7,1.5],[14.6,1.8],[14.8,2.1],[14.6,2.6],
[15.5,-1.9],[15.7,-1.6],[15.4,-1.3],[15.6,-1.0],[15.5,-0.7],[15.8,-0.4],[15.4,-0.1],[15.6,0.2],[15.5,0.5],[15.7,0.8],[15.4,1.1],[15.6,1.4],[15.5,1.7],
[16.4,-1.5],[16.6,-1.1],[16.3,-0.8],[16.5,-0.5],[16.4,-0.2],[16.7,0.1],[16.3,0.4],[16.5,0.7],[16.4,1.0],[16.6,1.4],[16.4,1.75],
[17.3,-1.3],[17.5,-0.9],[17.2,-0.5],[17.4,-0.1],[17.3,0.3],[17.5,0.7],[17.2,1.1],[17.4,1.6],
[18.1,-1.2],[18.3,-0.6],[18.0,0.0],[18.2,0.4],[18.1,0.8],
[13.6,3.46],[15.2,3.23],[14.9,3.1],[14.6,2.95],[13.4,2.58],[17.2,2.52],[12.8,2.28],[16.5,2.08],
[22.1,2.21],[24.3,2.28],[23.7,5.09],[25.97,3.84],[34.2,2.11],[35.6,-1.44],[28.5,0.62],[26.5,0.0],[27.4,-0.6],
[22.1,1.0],[22.1,0.39],[22.1,0.26],[22.1,0.0],[22.1,-0.56],[22.1,-0.83],
[24.2,0.46],[24.2,0.19],[24.2,0.0],[24.3,-0.15],[24.2,-0.29],[24.1,-0.56],[24.2,-0.7],[24.2,-0.96],[24.2,-1.23],[24.2,-1.6],[24.1,-1.77],[24.2,-1.9],
[25.4,-0.49],[18.6,-2.52],[16.2,-2.92],[17.6,-0.08],[16.4,-1.9],[10.7,-2.31],[11.0,-2.25],[58.1,-0.82],[45.9,0.86],[45.9,0.7],[45.9,0.57],
[18.3,-0.9],[18.5,0.3],[12.2,-2.35],[13.5,-2.45],[15.0,-2.3]
];
const cwresVsTadCore = [
[11.45,-2.05],[11.5,-1.8],[11.4,-1.55],[11.5,-1.3],[11.45,-1.05],[11.55,-0.8],[11.4,-0.55],[11.5,-0.3],[11.45,-0.05],[11.55,0.2],
[11.4,0.45],[11.5,0.7],[11.45,0.95],[11.55,1.2],[11.4,1.45],[11.5,1.7],[11.45,1.95],[11.5,2.2],
[12.35,-2.2],[12.4,-1.95],[12.3,-1.7],[12.4,-1.45],[12.35,-1.2],[12.45,-0.95],[12.3,-0.7],[12.4,-0.45],[12.35,-0.2],[12.45,0.05],
[12.3,0.3],[12.4,0.55],[12.35,0.8],[12.45,1.05],[12.3,1.3],[12.4,1.55],[12.35,1.8],[12.4,2.05],[12.35,2.35],
[13.25,-2.25],[13.3,-2.0],[13.2,-1.75],[13.3,-1.5],[13.25,-1.25],[13.35,-1.0],[13.2,-0.75],[13.3,-0.5],[13.25,-0.25],[13.35,0.0],
[13.2,0.25],[13.3,0.5],[13.25,0.75],[13.35,1.0],[13.2,1.25],[13.3,1.5],[13.25,1.75],[13.3,2.0],[13.25,2.25],
[14.15,-2.2],[14.2,-1.95],[14.1,-1.7],[14.2,-1.45],[14.15,-1.2],[14.25,-0.95],[14.1,-0.7],[14.2,-0.45],[14.15,-0.2],[14.25,0.05],
[14.1,0.3],[14.2,0.55],[14.15,0.8],[14.25,1.05],[14.1,1.3],[14.2,1.55],[14.15,1.8],[14.2,2.0],
[15.05,-1.8],[15.1,-1.45],[15.0,-1.15],[15.1,-0.85],[15.05,-0.55],[15.15,-0.25],[15.0,0.05],[15.1,0.35],[15.05,0.65],[15.15,0.95],[15.0,1.25],[15.1,1.55],
[15.95,-1.35],[16.0,-0.95],[15.9,-0.65],[16.0,-0.35],[15.95,-0.05],[16.05,0.25],[15.9,0.55],[16.0,0.85],[15.95,1.2]
];

// ---------------- LAYOUT ----------------
const svg = d3.select("#chart");
const panels = [
  {data: obsVsPred.concat(obsVsPredCore), xd:[0,20], yd:[0,20], L:290, R:572, T:18, B:302, xt:obsTicks, xm:1, yt:obsTicks, ym:1, r:3.4,
   label:"(a)", lx:303, ly:30, xlab:"PRED (ng/mL)", ylab:"OBS (ng/mL)", ylx:255, tY:351, identity:true},
  {data: obsVsIpred.concat(obsVsIpredCore), xd:[0,20], yd:[0,20], L:764, R:1043, T:19, B:298, xt:obsTicks, xm:1, yt:obsTicks, ym:1, r:3.4,
   label:"(b)", lx:778, ly:31, xlab:"IPRED (ng/mL)", ylab:"OBS (ng/mL)", ylx:726, tY:351, identity:true},
  {data: cwresVsPred.concat(cwresVsPredCore), xd:[0,15], yd:[-4,6], L:66.7, R:429.3, T:404, B:646.7, xt:predTicksC, xm:1, yt:cwresTicks, ym:null, r:2.7,
   label:"(c)", lx:80, ly:402, xlab:"PRED (ng/mL)", ylab:"CWRES", ylx:33, tY:701},
  {data: cwresVsTime.concat(cwresVsTimeCore), xd:[0,25000], yd:[-4,6], L:500, R:871.7, T:404, B:651.7, xt:timeTicks, xm:1000, yt:cwresTicks, ym:null, r:2.7,
   label:"(d)", lx:515, ly:403, xlab:"Time (h)", ylab:"CWRES", ylx:473, tY:701},
  {data: cwresVsTad.concat(cwresVsTadCore), xd:[0,80], yd:[-4,6], L:961, R:1330.7, T:405, B:651.7, xt:tadTicks, xm:4, yt:cwresTicks, ym:null, r:2.7,
   label:"(e)", lx:973, ly:403, xlab:"Time after last Dose (h)", ylab:"CWRES", ylx:940, tY:701}
];

const axisCol = "#3a3a3a";
panels.forEach(p => {
  const x = d3.scaleLinear().domain(p.xd).range([p.L, p.R]);
  const y = d3.scaleLinear().domain(p.yd).range([p.B, p.T]);
  const g = svg.append("g");

  if (p.identity) {
    g.append("line").attr("x1", x(0)).attr("y1", y(0)).attr("x2", x(15)).attr("y2", y(15))
      .attr("stroke", "#8a8a8a").attr("stroke-width", 1);
  } else {
    g.append("line").attr("x1", x(p.xd[0])).attr("x2", x(p.xd[1])).attr("y1", y(0)).attr("y2", y(0))
      .attr("stroke", "#777").attr("stroke-width", 1.2).attr("stroke-dasharray", "1.5,1.5");
  }

  g.append("g").selectAll("circle").data(p.data).join("circle")
    .attr("cx", d => x(d[0])).attr("cy", d => y(d[1])).attr("r", p.r).attr("fill", "#202020");

  const xMinor = d3.range(p.xd[0], p.xd[1] + p.xm / 2, p.xm);
  g.append("g").attr("transform", `translate(0,${p.B})`)
    .call(d3.axisBottom(x).tickValues(xMinor).tickFormat("").tickSize(4).tickSizeOuter(0))
    .call(s => s.select(".domain").remove())
    .selectAll("line").attr("stroke", axisCol).attr("stroke-width", 1.3);
  const xa = g.append("g").attr("transform", `translate(0,${p.B})`)
    .call(d3.axisBottom(x).tickValues(p.xt).tickSize(6).tickPadding(5).tickSizeOuter(0).tickFormat(d3.format("d")));
  xa.select(".domain").attr("stroke", axisCol).attr("stroke-width", 2);
  xa.selectAll("line").attr("stroke", axisCol).attr("stroke-width", 1.6);
  xa.selectAll("text").attr("font-size", 18).attr("font-family", '"Liberation Sans",Arial,sans-serif')
    .attr("font-weight", "bold").attr("fill", "#222");

  if (p.ym) {
    const yMinor = d3.range(p.yd[0], p.yd[1] + p.ym / 2, p.ym);
    g.append("g").attr("transform", `translate(${p.L},0)`)
      .call(d3.axisLeft(y).tickValues(yMinor).tickFormat("").tickSize(4).tickSizeOuter(0))
      .call(s => s.select(".domain").remove())
      .selectAll("line").attr("stroke", axisCol).attr("stroke-width", 1.3);
  }
  const ya = g.append("g").attr("transform", `translate(${p.L},0)`)
    .call(d3.axisLeft(y).tickValues(p.yt).tickSize(6).tickPadding(2).tickSizeOuter(0).tickFormat(d3.format("d")));
  ya.select(".domain").attr("stroke", axisCol).attr("stroke-width", 2);
  ya.selectAll("line").attr("stroke", axisCol).attr("stroke-width", 1.6);
  ya.selectAll("text").attr("font-size", 18).attr("font-family", '"Liberation Sans",Arial,sans-serif')
    .attr("font-weight", "bold").attr("fill", "#222");

  g.append("text").attr("x", p.lx).attr("y", p.ly).attr("font-size", 19).text(p.label);
  g.append("text").attr("x", (p.L + p.R) / 2).attr("y", p.tY).attr("text-anchor", "middle")
    .attr("font-size", 23).text(p.xlab);
  g.append("text").attr("transform", `translate(${p.ylx},${(p.T + p.B) / 2}) rotate(-90)`)
    .attr("text-anchor", "middle").attr("font-size", 23).text(p.ylab);
});
</script>
</body></html>
